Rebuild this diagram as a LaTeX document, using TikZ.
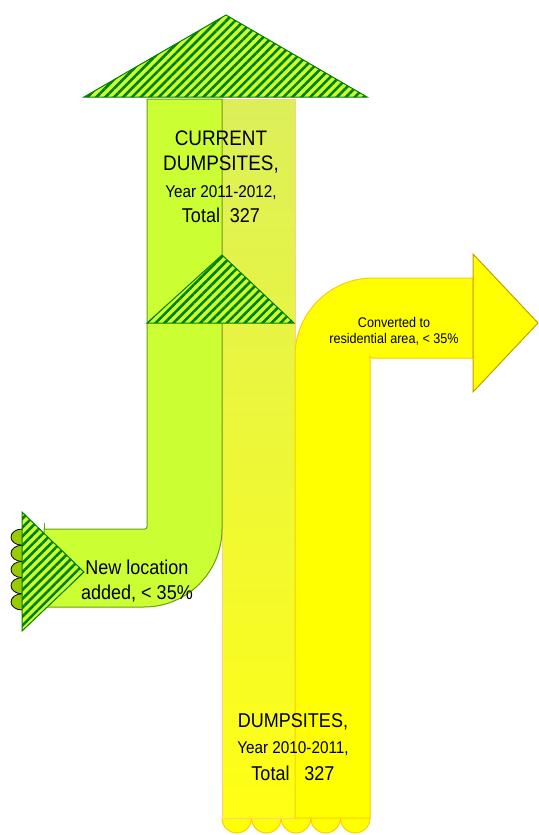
\documentclass[tikz,border=0pt]{standalone}
\usepackage{fontspec}
\setmainfont{Liberation Sans}[FakeStretch=0.9]
\usetikzlibrary{patterns.meta}
\definecolor{limefill}{HTML}{CCFF33}
\definecolor{greenedge}{HTML}{66A00A}
\definecolor{stripegreen}{HTML}{008000}
\definecolor{peach}{HTML}{FFCC99}
\definecolor{pureyellow}{HTML}{FFFF00}
\definecolor{gold}{HTML}{FFCC00}
\definecolor{darkgold}{HTML}{CC9900}
\definecolor{olive}{HTML}{99CC00}
\definecolor{paletop}{HTML}{DCEF5A}
\definecolor{palebot}{HTML}{FFFF14}
\tikzset{
  stripes/.style={preaction={fill=limefill},
    pattern={Lines[angle=45,distance=6.3pt,line width=2.6pt]},
    pattern color=stripegreen, draw=stripegreen, line width=1pt, line join=miter},
  greenband/.style={fill=limefill, draw=greenedge, line width=1pt},
  yellowband/.style={fill=pureyellow, draw=gold, line width=1pt},
  paleband/.style={top color=paletop, bottom color=palebot, draw=peach, line width=1pt},
  leftbump/.style={fill=olive, draw=black, line width=0.8pt},
  bottombump/.style={fill=pureyellow, draw=gold, line width=1pt},
  lbl/.style={anchor=base, inner sep=0pt, text=black},
}
\begin{document}
\begin{tikzpicture}[x=1pt,y=1pt]
\useasboundingbox (0,0) rectangle (538,-835);
% bottom bumps
\foreach \i in {0,...,4}
  \draw[bottombump] ({222+29.6*\i},-818) arc (180:360:14.8 and 15);
% pale continuing column
\draw[paleband] (222,-99) rectangle (295,-818);
% yellow flow: converted to residential
\draw[yellowband] (295,-818) -- (295,-356) arc (180:90:78) -- (473,-278)
  -- (473,-358) -- (372,-358) arc (270:180:2) -- (370,-818) -- cycle;
\draw[fill=pureyellow, draw=darkgold, line width=1pt] (473,-254) -- (538,-323) -- (473,-392) -- cycle;
% green flow: new location added
\draw[greenband] (147,-99) -- (222,-99) -- (222,-529) arc (0:-90:78) -- (44,-607)
  -- (44,-529) -- (145,-529) arc (-90:0:2) -- cycle;
\draw[greenedge, line width=1pt] (44,-523) -- (44,-529);
% striped triangles
\draw[stripes] (84,-97) -- (226,-15) -- (367,-97) -- cycle;
\draw[stripes] (147,-323) -- (222,-255) -- (294,-323) -- cycle;
\foreach \i in {0,...,4}
  \draw[leftbump] (22,{-529-16.2*\i}) arc (90:270:11 and 8.1);
\draw[stripes] (22,-512) -- (84,-572) -- (22,-631) -- cycle;
% texts
\node[lbl, font=\fontsize{21}{25}\selectfont] (t1) at (221,-145) {CURRENT};
\node[lbl, font=\fontsize{21}{25}\selectfont] (t2) at (221,-170) {DUMPSITES,};
\node[lbl, font=\fontsize{17}{25}\selectfont] (t3) at (221,-197) {Year 2011-2012,};
\node[lbl, font=\fontsize{20}{25}\selectfont] (t4) at (221,-222) {Total\ \ 327};
\node[lbl, font=\fontsize{20}{25}\selectfont] (b1) at (293,-727) {DUMPSITES,};
\node[lbl, font=\fontsize{17}{25}\selectfont] (b2) at (293,-753) {Year 2010-2011,};
\node[lbl, font=\fontsize{20}{25}\selectfont] (b3) at (293,-780) {Total\ \ \ 327};
\node[lbl, font=\fontsize{20}{25}\selectfont] (n1) at (137,-574) {New location};
\node[lbl, font=\fontsize{20}{25}\selectfont] (n2) at (137,-599) {added, < 35\%};
\node[lbl, font=\fontsize{14}{16}\selectfont] (c1) at (394,-327) {Converted to};
\node[lbl, font=\fontsize{14}{16}\selectfont] (c2) at (394,-343) {residential area, < 35\%};
\end{tikzpicture}
\end{document}
